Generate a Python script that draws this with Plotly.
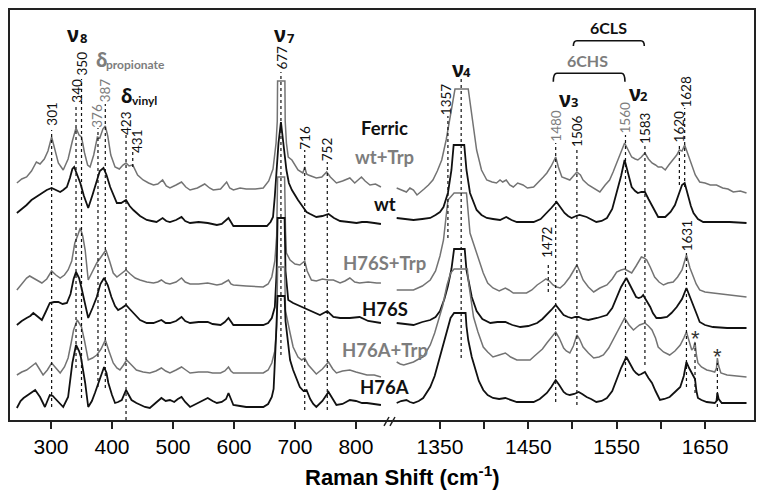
import plotly.graph_objects as go

# ---------------- data (Raman shift cm-1, offset intensity) ----------------
wt_trp_lo = [(244,238),(252,242),(260,244),(268,250),(276,259),(282,257),(289,262),(295,270),(301,284),(306,272),(312,258),(320,251),(328,262),(335,280),(341,293),(346,286),(350,284),(355,268),(360,256),(364,254),(370,266),(376,284),(380,283),(385,292),(389,295),(393,285),(398,266),(405,254),(412,252),(418,256),(423,258),(428,255),(434,256),(442,246),(451,241),(460,238),(468,236),(475,237),(483,241),(489,235),(495,233),(505,236),(514,239),(521,234),(528,231),(540,233),(552,237),(560,233),(566,231),(578,232),(588,239),(593,233),(599,231),(610,233),(620,232),(635,232),(648,233),(657,240),(664,252),(669,278),(671,300),(671.5,340),(683.5,340),(684,300),(686,278),(689,264),(695,261),(705,251),(713,248),(716,254),(719,247),(722,246),(735,243),(744,244),(752,249),(758,244),(768,238),(778,240),(790,243),(798,238),(809,244),(815,240),(823,236),(832,237),(841,234)]
wt_lo = [(244,208),(252,212),(260,216),(268,221),(276,224),(285,228),(293,231),(301,233),(308,231),(315,229),(320,231),(326,234),(331,243),(335,252),(338,254),(342,248),(348,238),(354,225),(361,213),(368,226),(375,241),(380,250),(386,253),(391,246),(397,234),(403,225),(408,218),(415,218),(423,221),(429,215),(435,211),(446,205),(457,201),(465,200),(473,199),(483,203),(489,200),(495,199),(505,201),(514,204),(520,200),(528,198),(542,199),(557,198),(565,197),(572,196),(580,197),(591,203),(596,198),(599,195),(620,195),(640,195),(654,195),(660,199),(664,204),(667,225),(670,255),(673,278),(677,299),(681,278),(686,251),(690,238),(695,231),(705,221),(714,213),(719,209),(725,207),(735,204),(745,205),(755,207),(764,203),(774,200),(788,199),(801,198),(810,199),(818,199),(830,198),(841,197)]
h76s_trp_lo = [(244,131),(252,137),(260,143),(265,145),(271,143),(278,141),(285,138),(293,142),(301,150),(308,146),(315,143),(322,146),(328,151),(334,160),(339,178),(344,186),(348,193),(352,185),(356,171),(361,141),(368,150),(375,158),(382,164),(390,171),(396,160),(402,148),(408,144),(415,147),(423,151),(430,147),(438,143),(446,141),(457,139),(468,138),(475,139),(481,141),(488,138),(495,137),(505,139),(514,143),(520,139),(528,137),(542,137),(557,138),(565,137),(572,136),(580,137),(591,141),(595,137),(599,136),(620,135),(648,134),(656,137),(662,144),(667,160),(670,185),(671.5,244),(683,244),(684.5,190),(686,168),(692,161),(700,157),(708,156),(713,158),(716,160),(720,150),(727,141),(735,140),(745,142),(754,141),(763,141),(774,138),(782,140),(790,143),(798,139),(806,138),(820,139),(834,138),(841,138)]
h76s_lo = [(244,96),(252,100),(260,103),(266,105),(271,108),(278,104),(285,101),(292,110),(298,118),(305,119),(312,119),(319,117),(326,118),(332,127),(337,142),(341,149),(346,143),(350,133),(355,118),(361,103),(368,113),(375,124),(381,137),(387,143),(393,136),(399,124),(405,115),(410,111),(416,113),(423,116),(429,112),(435,108),(446,101),(457,98),(468,98),(481,101),(488,98),(495,98),(505,100),(514,104),(520,100),(528,98),(542,99),(557,99),(565,97),(578,96),(585,99),(591,103),(595,99),(599,96),(620,96),(648,96),(656,98),(662,103),(667,114),(670,150),(671.5,203),(683,203),(684.5,150),(689,121),(697,118),(708,115),(716,113),(727,110),(741,106),(753,110),(763,104),(774,103),(790,103),(806,104),(820,100),(841,98)]
h76a_trp_lo = [(244,46),(252,49),(260,51),(268,55),(275,58),(281,52),(287,46),(294,51),(301,58),(308,53),(315,48),(322,54),(328,63),(333,78),(337,91),(343,101),(350,94),(355,80),(361,61),(368,63),(375,66),(382,72),(389,81),(395,70),(402,58),(408,53),(413,51),(419,56),(424,61),(432,56),(440,51),(451,49),(462,48),(472,50),(481,53),(488,50),(495,48),(505,51),(514,54),(521,51),(528,48),(542,49),(557,49),(565,48),(578,48),(585,50),(591,54),(595,50),(599,48),(620,48),(648,48),(656,51),(662,58),(667,70),(670,95),(671.5,154),(683,154),(684.5,110),(688,98),(692,88),(697,74),(705,64),(711,61),(716,63),(722,56),(730,51),(735,47),(745,52),(755,59),(762,52),(768,48),(778,50),(790,51),(800,49),(818,46),(830,46),(841,44)]
h76a_lo = [(244,13),(250,20),(255,23),(263,26),(268,28),(274,31),(282,24),(290,14),(298,26),(303,25),(306,23),(313,19),(320,14),(328,24),(335,58),(341,76),(346,70),(349,64),(353,50),(356,38),(361,14),(367,20),(372,28),(380,41),(387,54),(391,48),(394,38),(400,26),(405,18),(410,19),(416,21),(423,31),(428,25),(432,21),(440,18),(446,16),(454,14),(462,13),(472,18),(481,23),(488,20),(495,21),(502,19),(508,22),(514,24),(520,19),(528,14),(542,18),(557,23),(565,20),(572,18),(580,19),(587,22),(591,28),(595,22),(599,16),(610,15),(620,14),(635,14),(648,14),(656,17),(662,24),(665,32),(667,55),(669,85),(671.5,125),(683,125),(684.5,100),(686,91),(692,61),(697,51),(703,41),(708,34),(714,30),(719,31),(725,22),(730,17),(735,14),(745,20),(755,29),(762,22),(768,16),(778,17),(790,21),(800,20),(810,18),(818,18),(830,17),(841,16)]

wt_trp_hi = [(1301,233),(1306,231),(1312,229),(1316,233),(1320,231),(1324,226),(1327,228),(1332,232),(1337,236),(1342,241),(1347,250),(1352,261),(1357,281),(1361,302),(1365,321),(1367,332),(1382,332),(1384,318),(1388,294),(1391.5,271),(1397,251),(1403,241),(1409,239),(1414,238),(1418,241),(1421,239),(1425,241),(1429,236),(1433,234),(1438,238),(1444,236),(1449,233),(1456,234),(1462,239),(1467,244),(1471,248),(1476,255),(1481,264),(1484,254),(1488,244),(1493,242),(1497,241),(1501,245),(1505,249),(1509,246),(1512,241),(1518,236),(1524,233),(1528,231),(1531,229),(1537,236),(1542,241),(1546,249),(1550,258),(1555,268),(1559,278),(1563,271),(1567,264),(1571,262),(1574,261),(1578,264),(1582,268),(1586,262),(1590,258),(1594,256),(1597,254),(1601,254),(1605,251),(1609,256),(1614,261),(1618,266),(1621,271),(1624,270),(1627,276),(1631,266),(1635,254),(1639,246),(1644,239),(1650,238),(1656,236),(1663,236),(1670,233),(1676,232),(1682,229),(1690,230),(1697,228)]
wt_hi = [(1301,203),(1310,202),(1320,201),(1330,202),(1339,203),(1345,206),(1350,209),(1354,214),(1359,228),(1363,251),(1365.5,276),(1377.5,276),(1380,251),(1384,228),(1391.5,211),(1397,206),(1403,203),(1410,202),(1418,201),(1425,204),(1431,201),(1437,199),(1446,199),(1456,199),(1464,202),(1471,208),(1476,213),(1482,219),(1487,213),(1491,208),(1495,205),(1499,203),(1504,205),(1508,206),(1516,204),(1521,202),(1527,199),(1533,200),(1539,203),(1545,212),(1550,228),(1555,245),(1559,261),(1563,248),(1567,234),(1571,230),(1574,228),(1578,229),(1582,229),(1586,222),(1590,216),(1594,209),(1597,204),(1605,204),(1611,209),(1616,216),(1620,227),(1624,236),(1627,238),(1631,224),(1634,215),(1637,208),(1642,202),(1648,199),(1660,199),(1678,199),(1697,198)]
h76s_trp_hi = [(1301,131),(1310,131),(1320,131),(1330,135),(1339,141),(1345,150),(1350,165),(1354,181),(1359,221),(1366,228),(1380,228),(1384,188),(1391.5,169),(1395,160),(1399,148),(1404,138),(1410,133),(1417,130),(1424,133),(1428,131),(1433,128),(1440,128),(1448,128),(1454,131),(1460,136),(1465,139),(1470,142),(1474,140),(1478,136),(1482,134),(1486,133),(1491,137),(1497,144),(1501,150),(1505,156),(1508,150),(1512,141),(1518,134),(1524,129),(1531,133),(1539,136),(1545,142),(1550,149),(1555,151),(1559,152),(1563,150),(1567,148),(1572,155),(1578,164),(1581,163),(1584,161),(1588,154),(1593,144),(1598,139),(1603,136),(1608,138),(1614,139),(1619,144),(1624,151),(1627,160),(1629,166),(1633,153),(1637,143),(1640,137),(1644,131),(1650,129),(1659,128),(1670,127),(1680,126),(1697,124)]
h76s_hi = [(1301,98),(1310,97),(1320,96),(1330,99),(1339,101),(1345,104),(1350,110),(1355,122),(1359,135),(1363,152),(1366,172),(1378,172),(1380,151),(1386,124),(1391.5,110),(1398,102),(1407,98),(1415,99),(1424,99),(1432,96),(1441,94),(1450,95),(1460,98),(1466,102),(1471,106),(1476,111),(1481,116),(1486,110),(1490,106),(1495,104),(1499,103),(1503,104),(1507,104),(1512,102),(1518,101),(1528,103),(1539,106),(1545,113),(1550,124),(1555,134),(1561,143),(1565,136),(1569,129),(1572,124),(1575,123),(1578,124),(1580,126),(1584,120),(1588,114),(1591,108),(1595,103),(1600,103),(1607,104),(1612,108),(1618,114),(1624,122),(1629,133),(1633,124),(1637,114),(1641,106),(1644,99),(1650,96),(1659,94),(1675,93),(1697,93)]
h76a_trp_hi = [(1301,59),(1305,57),(1309,56),(1315,58),(1320,59),(1326,62),(1331,64),(1335,70),(1339,76),(1344,88),(1348,100),(1353,115),(1358,136),(1362,148),(1366,152),(1381,152),(1382,141),(1385,120),(1388,104),(1393,89),(1399,74),(1404,69),(1410,64),(1417,66),(1424,68),(1430,64),(1437,61),(1444,61),(1452,61),(1457,65),(1461,68),(1466,72),(1471,78),(1476,84),(1481,89),(1485,83),(1490,73),(1493,70),(1497,68),(1501,75),(1505,86),(1508,82),(1512,74),(1518,68),(1524,63),(1530,64),(1535,66),(1541,73),(1546,81),(1552,91),(1559,103),(1564,96),(1569,91),(1573,94),(1576,96),(1579,97),(1582,98),(1586,95),(1590,91),(1594,83),(1597,74),(1603,69),(1610,66),(1616,70),(1622,76),(1626,83),(1629,89),(1632,80),(1635,71),(1637,73),(1638.7,79),(1640.3,66),(1642,58),(1646,54),(1652,51),(1657,50),(1661,49),(1663,53),(1664,63),(1665.5,55),(1668,48),(1675,46),(1685,45),(1697,44)]
h76a_hi = [(1301,18),(1306,20),(1312,21),(1316,19),(1320,18),(1326,20),(1331,23),(1335,28),(1339,34),(1344,45),(1348,58),(1353,75),(1358,91),(1362,103),(1366,108),(1379,108),(1380,95),(1382,81),(1386,64),(1390,51),(1394,40),(1399,31),(1404,26),(1410,23),(1417,22),(1424,23),(1430,21),(1437,19),(1446,19),(1456,19),(1463,22),(1471,28),(1476,34),(1481,41),(1485,36),(1490,29),(1493,27),(1497,26),(1502,27),(1507,29),(1511,27),(1516,24),(1521,22),(1527,19),(1533,20),(1539,23),(1545,30),(1550,41),(1555,53),(1561,64),(1565,57),(1569,51),(1572,48),(1575,46),(1578,47),(1582,49),(1586,43),(1590,38),(1594,30),(1599,21),(1604,22),(1610,24),(1616,29),(1622,34),(1626,45),(1629,59),(1632,53),(1635,48),(1637,44),(1638.7,42),(1640.3,30),(1642,23),(1646,21),(1652,19),(1661,18),(1663,20),(1664,28),(1665.5,22),(1669,18),(1680,18),(1697,18)]

left_ticks = [300, 400, 500, 600, 700, 800]
right_ticks = [1350, 1450, 1550, 1650]
right_minor_ticks = [1400, 1500, 1600]

sample_names = ["Ferric", "wt+Trp", "wt", "H76S+Trp", "H76S", "H76A+Trp", "H76A"]
sample_label_y = [293, 264, 217, 158, 112, 71, 34]
sample_gray = [False, True, False, True, False, True, False]

# peak labels: text, axis, line x, label x, label y, line top, line bottom, gray
peak_labels = [
    ("301", "x", 301, 301, 307, 291, 14, False),
    ("340", "x", 341, 342, 330, 317, 53, False),
    ("350", "x", 350, 350, 357, 342, 23, False),
    ("376", "x", 377, 375, 305, 293, 34, True),
    ("387", "x", 389, 389, 331, 317, 33, True),
    ("423", "x", 423, 423, 298, 286, 1, False),
    ("431", "x", 434, 441, 280, 269, 254, False),
    ("677", "x", 677, 678, 363, 349, 66, False),
    ("716", "x", 716, 716, 283, 271, 11, False),
    ("752", "x", 753, 753, 272, 259, 11, False),
    ("1357", "x2", 1359, 1357, 321, 305, 183, False),
    ("", "x2", 1374, 1374, 0, 345, 63, False),
    ("1480", "x2", 1481, 1481, 295, 278, 19, True),
    ("1506", "x2", 1505, 1505, 290, 273, 16, False),
    ("1560", "x2", 1560, 1560, 303, 286, 44, True),
    ("1583", "x2", 1582, 1582, 293, 276, 56, False),
    ("1620", "x2", 1621, 1621, 294, 278, 236, False),
    ("1628", "x2", 1627, 1628, 329, 313, 234, False),
    ("1472", "x2", 1472.6, 1471, 179, 157, 129, False),
    ("1631", "x2", 1629, 1630, 185, 168, 34, False),
    ("", "x2", 1638.7, 1638.7, 0, 78, 28, False),
    ("", "x2", 1664, 1664, 0, 58, 14, False),
]

BLACK = "#111111"
GRAY = "#737373"
GRAY_TXT = "#7d7d7d"
LBL = "Lato, Open Sans, sans-serif"
GRK = "Noto Sans, DejaVu Sans, sans-serif"
ARIAL = "Liberation Sans, Arial, sans-serif"

fig = go.Figure()

def add(series, axis, gray):
    xs, ys = zip(*series)
    fig.add_trace(go.Scatter(
        x=list(xs), y=list(ys), xaxis=axis, yaxis="y", mode="lines",
        line=dict(color=GRAY if gray else BLACK, width=1.5 if gray else 1.8),
        hoverinfo="skip", showlegend=False))

for s, g in [(wt_trp_lo, True), (wt_lo, False), (h76s_trp_lo, True), (h76s_lo, False),
             (h76a_trp_lo, True), (h76a_lo, False)]:
    add(s, "x", g)
for s, g in [(wt_trp_hi, True), (wt_hi, False), (h76s_trp_hi, True), (h76s_hi, False),
             (h76a_trp_hi, True), (h76a_hi, False)]:
    add(s, "x2", g)

shapes = []
annotations = []

for txt, ax, lx, tx, ty, top, bot, g in peak_labels:
    shapes.append(dict(type="line", xref=ax, yref="y", x0=lx, x1=lx, y0=bot, y1=top,
                       line=dict(color=BLACK, width=1.2, dash="dot")))
    if txt:
        annotations.append(dict(text=txt, xref=ax, yref="y", x=tx, y=ty, textangle=-90,
                                showarrow=False, xanchor="center", yanchor="middle",
                                font=dict(family=LBL, size=13.5, color=GRAY_TXT if g else BLACK)))

for ax_x, ay in [(1639.5, 83), (1664.5, 65)]:
    annotations.append(dict(text="*", xref="x2", yref="y", x=ax_x, y=ay, showarrow=False,
                            font=dict(family=ARIAL, size=22, color="#333333")))

for name, yy, g in zip(sample_names, sample_label_y, sample_gray):
    annotations.append(dict(text="<b>%s</b>" % name, xref="paper", yref="y", x=0.504, y=yy,
                            showarrow=False, xanchor="center", yanchor="middle",
                            font=dict(family=LBL, size=18.5, color=GRAY_TXT if g else BLACK)))

modes = [
    ("ν", "8", "x", 336.6, 387, 354, 383.5),
    ("ν", "7", "x", 674.9, 387, 692.3, 383.5),
    ("ν", "4", "x2", 1370.4, 352, 1380.6, 349),
    ("ν", "3", "x2", 1491.9, 322, 1502.3, 319),
    ("ν", "2", "x2", 1571.1, 328.5, 1580.6, 325),
]
for sym, sub, ax, sx, sy, bx, by in modes:
    annotations.append(dict(text="<b>%s</b>" % sym, xref=ax, yref="y", x=sx, y=sy, showarrow=False,
                            font=dict(family=GRK, size=21, color=BLACK)))
    annotations.append(dict(text="<b>%s</b>" % sub, xref=ax, yref="y", x=bx, y=by, showarrow=False,
                            font=dict(family=GRK, size=13, color=BLACK)))

for sym, sub, sx, sy, bx, by, col in [("δ", "propionate", 383.6, 361, 439, 357, GRAY_TXT),
                                      ("δ", "vinyl", 424.9, 325, 452.8, 321, BLACK)]:
    annotations.append(dict(text="<b>%s</b>" % sym, xref="x", yref="y", x=sx, y=sy, showarrow=False,
                            font=dict(family=GRK, size=19, color=col)))
    annotations.append(dict(text="<b>%s</b>" % sub, xref="x", yref="y", x=bx, y=by, showarrow=False,
                            font=dict(family=LBL, size=12, color=col)))

annotations.append(dict(text="<b>6CHS</b>", xref="x2", yref="y", x=1517, y=361, showarrow=False,
                        font=dict(family=LBL, size=16, color=GRAY_TXT)))
annotations.append(dict(text="<b>6CLS</b>", xref="x2", yref="y", x=1541.3, y=394, showarrow=False,
                        font=dict(family=LBL, size=16, color=BLACK)))
for x1, x2, yt, yl in [(1478.3, 1559.4, 347.7, 339.3), (1501, 1581.3, 380.3, 375)]:
    path = "M %g,%g Q %g,%g %g,%g L %g,%g Q %g,%g %g,%g" % (
        x1, yl, x1, yt, x1 + 4, yt, x2 - 4, yt, x2, yt, x2, yl)
    shapes.append(dict(type="path", xref="x2", yref="y", path=path,
                       line=dict(color=BLACK, width=1.6)))

annotations.append(dict(text="<b>Raman Shift (cm<sup>-1</sup>)</b>", xref="paper", yref="paper",
                        x=0.528, y=-0.1335, showarrow=False, xanchor="center", yanchor="middle",
                        font=dict(family=ARIAL, size=22, color="black")))

shapes.append(dict(type="rect", xref="paper", yref="paper", x0=0, y0=0, x1=1, y1=1,
                   line=dict(color="#222222", width=2)))
for xa, xb in [(0.5027, 0.5094), (0.5107, 0.5174)]:
    shapes.append(dict(type="line", xref="paper", yref="paper", x0=xa, y0=-0.012, x1=xb, y1=0.0097,
                       line=dict(color="#222222", width=1.5)))

axis_common = dict(showgrid=False, zeroline=False, showline=False, ticks="outside", ticklen=7,
                   tickwidth=1.5, tickcolor="#222222",
                   tickfont=dict(family=ARIAL, size=21, color="black"))

# page body has an 8px margin: size the figure so it fits the 764x498 window
fig.update_layout(
    width=748, height=482,
    margin=dict(l=1, r=1, t=1, b=69),
    paper_bgcolor="white", plot_bgcolor="white",
    showlegend=False,
    xaxis=dict(domain=[0, 0.5147], range=[231.1, 860.7], tickvals=left_ticks, anchor="y", **axis_common),
    xaxis2=dict(domain=[0.5147, 1], range=[1296.8, 1706.6], tickvals=right_ticks, anchor="y",
                minor=dict(tickvals=right_minor_ticks, ticks="outside", ticklen=7, tickwidth=1.5,
                           tickcolor="#222222", showgrid=False),
                **axis_common),
    yaxis=dict(range=[0, 412], visible=False, fixedrange=True),
    shapes=shapes,
    annotations=annotations,
)

fig.write_html("out.html")
